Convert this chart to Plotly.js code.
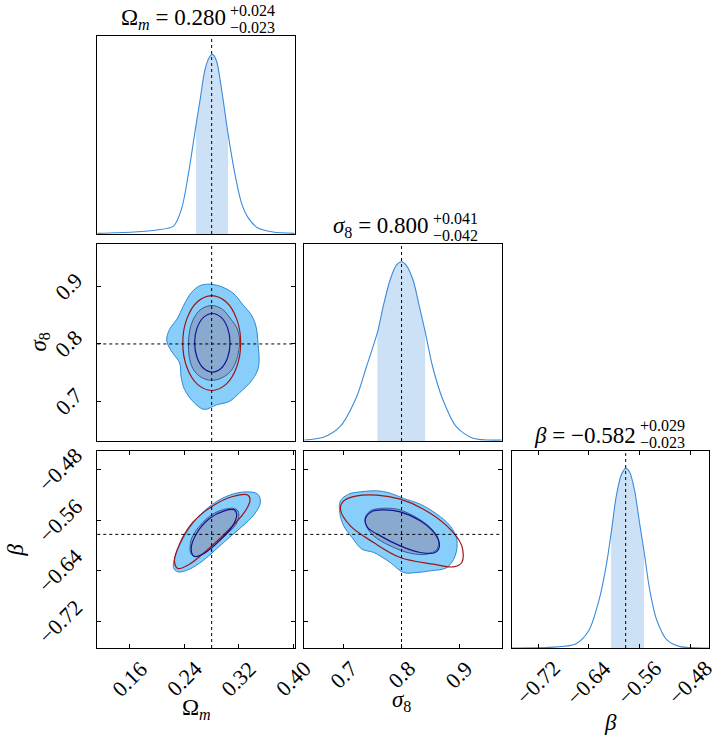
<!DOCTYPE html>
<html>
<head>
<meta charset="utf-8">
<script src="https://cdn.plot.ly/plotly-3.0.1.min.js"></script>
<style>html,body{margin:0;padding:0;background:#fff}</style>
</head>
<body>
<div id="myDiv" style="width:725px;height:745px"></div>
<script>
// summary statistics (median and 68% interval)
var medians = [0.280, 0.800, -0.582];
var errPlus = [0.024, 0.041, 0.029];
var errMinus = [0.023, 0.042, 0.023];

// axis ranges and ticks
var omRange = [0.112, 0.402];
var s8Range = [0.631, 0.974];
var betaRange = [-0.762, -0.450];
var omTicks = [0.16, 0.24, 0.32, 0.40];
var omTickText = ['0.16', '0.24', '0.32', '0.40'];
var s8Ticks = [0.7, 0.8, 0.9];
var s8TickText = ['0.7', '0.8', '0.9'];
var betaTicks = [-0.72, -0.64, -0.56, -0.48];
var betaTickText = ['\u22120.72', '\u22120.64', '\u22120.56', '\u22120.48'];

// 1D marginal posteriors (relative height)
var omX = [0.112, 0.165, 0.199, 0.224, 0.236, 0.246, 0.257, 0.263, 0.270, 0.277, 0.281, 0.287, 0.295, 0.304, 0.314, 0.324, 0.334, 0.348, 0.370, 0.402];
var omP = [0.003, 0.010, 0.020, 0.040, 0.130, 0.306, 0.550, 0.677, 0.828, 0.895, 0.907, 0.875, 0.720, 0.508, 0.306, 0.155, 0.080, 0.030, 0.010, 0.003];
var s8X = [0.631, 0.664, 0.693, 0.722, 0.739, 0.758, 0.768, 0.780, 0.791, 0.800, 0.808, 0.820, 0.831, 0.841, 0.854, 0.872, 0.895, 0.924, 0.974];
var s8P = [0.005, 0.019, 0.073, 0.225, 0.377, 0.550, 0.682, 0.817, 0.893, 0.910, 0.893, 0.817, 0.682, 0.555, 0.377, 0.208, 0.073, 0.014, 0.005];
var betaX = [-0.762, -0.704, -0.661, -0.640, -0.624, -0.613, -0.605, -0.597, -0.589, -0.582, -0.576, -0.568, -0.560, -0.553, -0.544, -0.533, -0.517, -0.496, -0.450];
var betaP = [0.000, 0.003, 0.020, 0.090, 0.244, 0.413, 0.582, 0.768, 0.878, 0.912, 0.895, 0.802, 0.633, 0.490, 0.294, 0.142, 0.041, 0.007, 0.000];

// 2D contours: [x, y] points
var omS8Outer = [[0.274,0.904],[0.291,0.901],[0.311,0.889],[0.326,0.868],[0.338,0.851],[0.345,0.831],[0.348,0.802],[0.349,0.761],[0.340,0.738],[0.321,0.715],[0.306,0.700],[0.287,0.694],[0.269,0.686],[0.255,0.697],[0.240,0.721],[0.235,0.744],[0.233,0.767],[0.223,0.784],[0.214,0.805],[0.218,0.825],[0.230,0.845],[0.238,0.865],[0.250,0.889],[0.262,0.901],[0.274,0.904]];
var omS8Inner = [[0.2805,0.867],[0.296,0.860],[0.309,0.842],[0.317,0.828],[0.321,0.807],[0.320,0.790],[0.315,0.767],[0.306,0.750],[0.291,0.739],[0.277,0.737],[0.262,0.744],[0.252,0.758],[0.247,0.778],[0.246,0.802],[0.248,0.825],[0.254,0.845],[0.264,0.860],[0.2805,0.867]];
var omS8Fisher = [[0.3226,0.8015],[0.3169,0.8428],[0.3014,0.8729],[0.2801,0.884],[0.2588,0.8729],[0.2433,0.8428],[0.2376,0.8015],[0.2433,0.7602],[0.2588,0.7301],[0.2801,0.719],[0.3014,0.7301],[0.3169,0.7602],[0.3226,0.8015]];
var omS8Fisher1 = [[0.307,0.802],[0.3035,0.8275],[0.294,0.8462],[0.281,0.853],[0.268,0.8462],[0.2585,0.8275],[0.255,0.802],[0.2585,0.7765],[0.268,0.7578],[0.281,0.751],[0.294,0.7578],[0.3035,0.7765],[0.307,0.802]];

var omBetaOuter = [[0.2239,-0.6345],[0.2268,-0.616],[0.2375,-0.5896],[0.2572,-0.558],[0.2815,-0.5342],[0.306,-0.520],[0.3306,-0.5147],[0.3477,-0.5183],[0.3516,-0.5315],[0.3428,-0.550],[0.3256,-0.5686],[0.3086,-0.5844],[0.2865,-0.6055],[0.2669,-0.624],[0.2473,-0.6371],[0.2302,-0.6414],[0.2239,-0.6345]];
var omBetaInner = [[0.2484,-0.6002],[0.2522,-0.5844],[0.2718,-0.558],[0.2914,-0.5448],[0.3134,-0.5410],[0.3197,-0.5473],[0.3159,-0.5659],[0.2962,-0.5869],[0.2742,-0.6082],[0.2572,-0.617],[0.2499,-0.6134],[0.2484,-0.6002]];
var omBetaFisher = [[0.2253,-0.624],[0.2327,-0.5975],[0.2522,-0.5632],[0.2815,-0.5369],[0.3109,-0.522],[0.3329,-0.5195],[0.3364,-0.5274],[0.328,-0.5473],[0.3012,-0.579],[0.2718,-0.6082],[0.2473,-0.6292],[0.2302,-0.636],[0.2253,-0.624]];
var omBetaFisher1 = [[0.2499,-0.6055],[0.2572,-0.5817],[0.2768,-0.5568],[0.2988,-0.5448],[0.3134,-0.5432],[0.3168,-0.55],[0.3109,-0.5686],[0.2914,-0.5923],[0.2694,-0.6118],[0.2547,-0.617],[0.2499,-0.6055]];

var s8BetaOuter = [[0.6938,-0.529],[0.7081,-0.5183],[0.7284,-0.5147],[0.7574,-0.5131],[0.7804,-0.5168],[0.8035,-0.5251],[0.8324,-0.5342],[0.8614,-0.550],[0.8844,-0.5686],[0.896,-0.5896],[0.8931,-0.616],[0.8787,-0.6345],[0.8497,-0.6398],[0.8267,-0.6424],[0.8035,-0.6424],[0.7804,-0.6266],[0.7515,-0.6107],[0.7313,-0.6055],[0.7140,-0.5869],[0.6995,-0.5686],[0.6926,-0.5473],[0.6938,-0.529]];
var s8BetaInner = [[0.737,-0.5552],[0.7458,-0.5448],[0.7631,-0.541],[0.792,-0.5421],[0.8208,-0.5527],[0.8497,-0.5711],[0.8641,-0.5896],[0.8614,-0.6055],[0.844,-0.6134],[0.8151,-0.6118],[0.7804,-0.6002],[0.7515,-0.5844],[0.7388,-0.5686],[0.737,-0.5552]];
var s8BetaFisher = [[0.6938,-0.5421],[0.6995,-0.529],[0.7227,-0.5210],[0.7574,-0.5199],[0.7977,-0.5263],[0.8381,-0.5421],[0.8787,-0.5686],[0.9047,-0.6002],[0.9047,-0.6266],[0.8901,-0.6335],[0.8555,-0.6292],[0.7977,-0.6186],[0.7515,-0.5949],[0.7111,-0.5686],[0.6938,-0.5421]];
var s8BetaFisher1 = [[0.737,-0.558],[0.7487,-0.5457],[0.7688,-0.5432],[0.7977,-0.5464],[0.8324,-0.5606],[0.8584,-0.5817],[0.8659,-0.6002],[0.8584,-0.6107],[0.8324,-0.6107],[0.7977,-0.6002],[0.7631,-0.5844],[0.7411,-0.5711],[0.737,-0.558]];

var FONT = 'Liberation Serif';
var curveColor = 'rgb(58,139,220)';
var bandColor = 'rgb(205,225,246)';
var outerFill = 'rgb(135,206,250)';
var outerLine = 'rgb(45,135,210)';
var innerFill = 'rgb(137,170,206)';
var innerLine = 'rgb(55,90,145)';
var fisherRed = 'rgb(160,20,20)';
var fisherNavy = 'rgb(20,20,150)';

var data = [];

function marginal(xs, ps, lo, hi, xa, ya) {
  var bx = [], bp = [];
  for (var i = 0; i < xs.length; i++) {
    if (xs[i] >= lo - 1e-9 && xs[i] <= hi + 1e-9) { bx.push(xs[i]); bp.push(ps[i]); }
  }
  data.push({x: bx, y: bp, xaxis: xa, yaxis: ya, mode: 'lines', fill: 'tozeroy',
    fillcolor: bandColor, line: {width: 0, shape: 'spline'}, hoverinfo: 'skip'});
  data.push({x: xs, y: ps, xaxis: xa, yaxis: ya, mode: 'lines',
    line: {color: curveColor, width: 1.1, shape: 'spline', smoothing: 0.8}});
}

function contour(pts, xa, ya, fillc, linec, width) {
  var t = {x: pts.map(function (p) { return p[0]; }), y: pts.map(function (p) { return p[1]; }),
    xaxis: xa, yaxis: ya, mode: 'lines', line: {color: linec, width: width, shape: 'spline', smoothing: 1}};
  if (fillc) { t.fill = 'toself'; t.fillcolor = fillc; }
  data.push(t);
}

marginal(omX, omP, medians[0] - errMinus[0], medians[0] + errPlus[0], 'x', 'y');
marginal(s8X, s8P, medians[1] - errMinus[1], medians[1] + errPlus[1], 'x3', 'y3');
marginal(betaX, betaP, medians[2] - errMinus[2], medians[2] + errPlus[2], 'x6', 'y6');

contour(omS8Outer, 'x2', 'y2', outerFill, outerLine, 1);
contour(omS8Inner, 'x2', 'y2', innerFill, innerLine, 1);
contour(omS8Fisher, 'x2', 'y2', null, fisherRed, 1.2);
contour(omS8Fisher1, 'x2', 'y2', null, fisherNavy, 1.2);
contour(omBetaOuter, 'x4', 'y4', outerFill, outerLine, 1);
contour(omBetaInner, 'x4', 'y4', innerFill, innerLine, 1);
contour(omBetaFisher, 'x4', 'y4', null, fisherRed, 1.2);
contour(omBetaFisher1, 'x4', 'y4', null, fisherNavy, 1.2);
contour(s8BetaOuter, 'x5', 'y5', outerFill, outerLine, 1);
contour(s8BetaInner, 'x5', 'y5', innerFill, innerLine, 1);
contour(s8BetaFisher, 'x5', 'y5', null, fisherRed, 1.2);
contour(s8BetaFisher1, 'x5', 'y5', null, fisherNavy, 1.2);

// panel placement
var colX = [[0.1342, 0.4065], [0.4197, 0.6920], [0.7058, 0.9783]];
var rowY = [[0.6859, 0.9517], [0.4080, 0.6725], [0.1302, 0.3946]];

function axis(domain, range, anchor, tickvals) {
  var a = {domain: domain, range: range, anchor: anchor, showgrid: false, zeroline: false,
    showline: true, mirror: true, linecolor: 'black', linewidth: 1, showticklabels: false,
    fixedrange: true};
  if (tickvals) {
    a.tickmode = 'array'; a.tickvals = tickvals; a.ticks = 'inside'; a.ticklen = 4;
    a.tickcolor = 'black'; a.tickwidth = 1; a.mirror = 'ticks';
  } else {
    a.ticks = '';
  }
  return a;
}

var layout = {
  width: 725, height: 745, autosize: false,
  margin: {l: 0, r: 0, t: 0, b: 0},
  paper_bgcolor: 'white', plot_bgcolor: 'white',
  showlegend: false,
  font: {family: FONT, color: 'black'},
  xaxis: axis(colX[0], omRange, 'y', null),
  yaxis: axis(rowY[0], [0, 1], 'x', null),
  xaxis2: axis(colX[0], omRange, 'y2', null),
  yaxis2: axis(rowY[1], s8Range, 'x2', s8Ticks),
  xaxis3: axis(colX[1], s8Range, 'y3', null),
  yaxis3: axis(rowY[1], [0, 1], 'x3', null),
  xaxis4: axis(colX[0], omRange, 'y4', omTicks),
  yaxis4: axis(rowY[2], betaRange, 'x4', betaTicks),
  xaxis5: axis(colX[1], s8Range, 'y5', s8Ticks),
  yaxis5: axis(rowY[2], betaRange, 'x5', betaTicks),
  xaxis6: axis(colX[2], betaRange, 'y6', betaTicks),
  yaxis6: axis(rowY[2], [0, 1], 'x6', null),
  shapes: [],
  annotations: []
};

// dashed median lines
function vline(v, xa, ya) {
  layout.shapes.push({type: 'line', xref: xa, yref: ya + ' domain', x0: v, x1: v, y0: 0, y1: 1,
    line: {color: 'black', width: 1, dash: '3px,3px'}, layer: 'above'});
}
function hline(v, xa, ya) {
  layout.shapes.push({type: 'line', xref: xa + ' domain', yref: ya, x0: 0, x1: 1, y0: v, y1: v,
    line: {color: 'black', width: 1, dash: '3px,3px'}, layer: 'above'});
}
vline(medians[0], 'x', 'y');
vline(medians[0], 'x2', 'y2'); hline(medians[1], 'x2', 'y2');
vline(medians[1], 'x3', 'y3');
vline(medians[0], 'x4', 'y4'); hline(medians[2], 'x4', 'y4');
vline(medians[1], 'x5', 'y5'); hline(medians[2], 'x5', 'y5');
vline(medians[2], 'x6', 'y6');

// rotated tick labels
var tickSize = 22;
function xTickLabels(vals, texts, xa, ya) {
  vals.forEach(function (v, i) {
    layout.annotations.push({xref: xa, yref: ya + ' domain', x: v, y: 0, xanchor: 'center', yanchor: 'top',
      yshift: -5, textangle: -45, text: texts[i], showarrow: false, font: {family: FONT, size: tickSize}});
  });
}
function yTickLabels(vals, texts, xa, ya) {
  vals.forEach(function (v, i) {
    layout.annotations.push({xref: xa + ' domain', yref: ya, x: 0, y: v, xanchor: 'right', yanchor: 'middle',
      xshift: -7, textangle: -45, text: texts[i], showarrow: false, font: {family: FONT, size: tickSize}});
  });
}
xTickLabels(omTicks, omTickText, 'x4', 'y4');
xTickLabels(s8Ticks, s8TickText, 'x5', 'y5');
xTickLabels(betaTicks, betaTickText, 'x6', 'y6');
yTickLabels(s8Ticks, s8TickText, 'x2', 'y2');
yTickLabels(betaTicks, betaTickText, 'x4', 'y4');

// axis labels
var labSize = 23;
function lab(text, xref, yref, x, y, angle) {
  layout.annotations.push({xref: xref, yref: yref, x: x, y: y, xanchor: 'center', yanchor: 'middle',
    text: text, textangle: angle, showarrow: false, font: {family: FONT, size: labSize}});
}
lab('\u03a9<sub><i>m</i></sub>', 'x4 domain', 'y4 domain', 0.5, -0.31, 0);
lab('<i>\u03c3</i><sub>8</sub>', 'x5 domain', 'y5 domain', 0.49, -0.27, 0);
lab('<i>\u03b2</i>', 'x6 domain', 'y6 domain', 0.5, -0.38, 0);
lab('<i>\u03c3</i><sub>8</sub>', 'x2 domain', 'y2 domain', -0.295, 0.5, -90);
lab('<i>\u03b2</i>', 'x4 domain', 'y4 domain', -0.412, 0.5, -90);

// panel titles: name = median^{+err}_{-err}
function fmt(v) { return (v < 0 ? '\u2212' : '') + Math.abs(v).toFixed(3); }
function title(name, k, xa, ya, split) {
  layout.annotations.push({xref: xa + ' domain', yref: ya + ' domain', x: split, y: 1, xanchor: 'right',
    yanchor: 'bottom', yshift: 1, text: name + ' = ' + fmt(medians[k]), showarrow: false,
    font: {family: FONT, size: 23}});
  layout.annotations.push({xref: xa + ' domain', yref: ya + ' domain', x: split, y: 1, xanchor: 'left',
    yanchor: 'bottom', yshift: 15, text: '+' + errPlus[k].toFixed(3), showarrow: false,
    font: {family: FONT, size: 16}});
  layout.annotations.push({xref: xa + ' domain', yref: ya + ' domain', x: split, y: 1, xanchor: 'left',
    yanchor: 'bottom', yshift: -2, text: '\u2212' + errMinus[k].toFixed(3), showarrow: false,
    font: {family: FONT, size: 16}});
}
title('\u03a9<sub><i>m</i></sub>', 0, 'x', 'y', 0.66);
title('<i>\u03c3</i><sub>8</sub>', 1, 'x3', 'y3', 0.642);
title('<i>\u03b2</i>', 2, 'x6', 'y6', 0.637);

Plotly.newPlot('myDiv', data, layout, {staticPlot: true});
</script>
</body>
</html>
